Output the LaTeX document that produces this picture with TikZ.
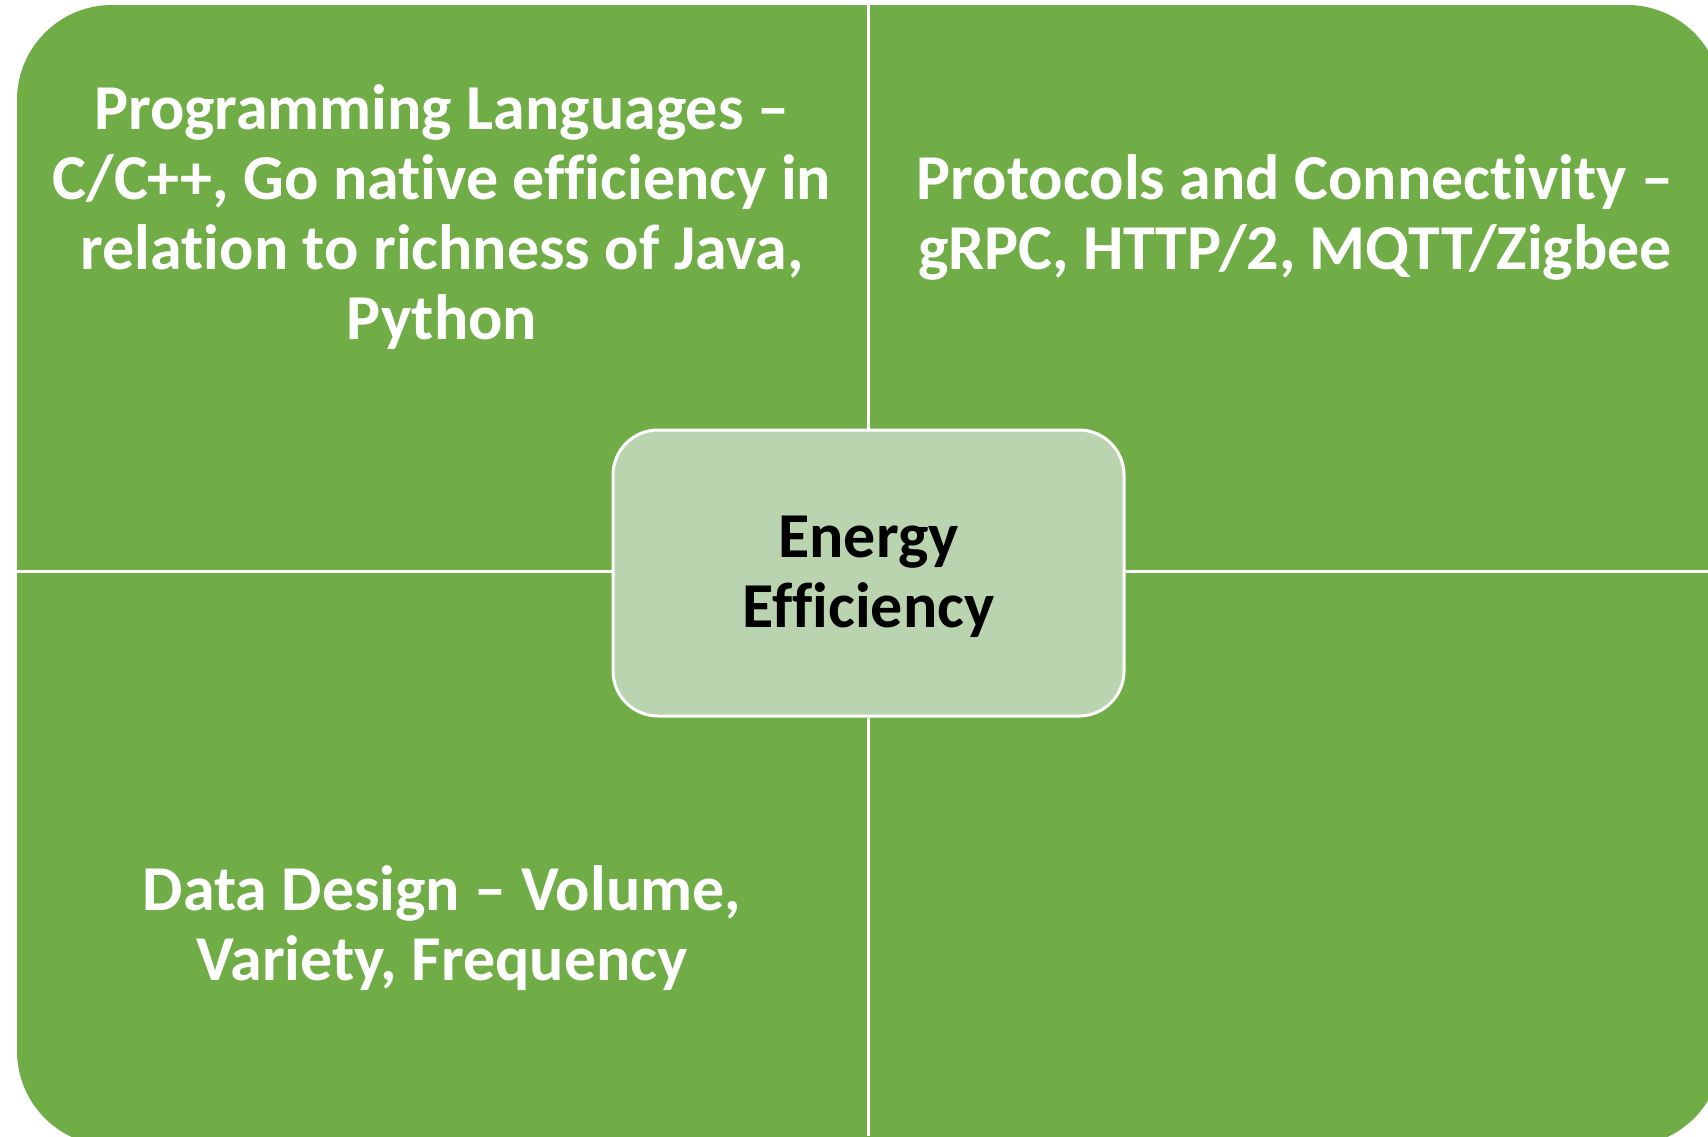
\documentclass[tikz,border=0pt]{standalone}
\usepackage{fontspec}
\setmainfont{Carlito}[Ligatures={TeX,NoCommon,NoContextual}]
\definecolor{leaf}{HTML}{70AD47}
\definecolor{paleleaf}{HTML}{BBD4B0}
\begin{document}
\begin{tikzpicture}[x=1pt,y=-1pt,
  quadtext/.style={text=white,font=\bfseries\fontsize{64}{70}\selectfont,align=center},
  hubbox/.style={draw=white,line width=3pt,fill=paleleaf,rounded corners=45pt,
    minimum width=511pt,minimum height=286pt,
    text=black,font=\bfseries\fontsize{64}{70}\selectfont,align=center},
  divider/.style={draw=white,line width=3pt}]
\useasboundingbox (0,0) rectangle (1708,1136);
\clip (0,0) rectangle (1708,1136);
% outer matrix panel
\fill[leaf,rounded corners=95pt] (17,5) rectangle (1722,1146);
\coordinate (top) at (868,0);
\coordinate (bottom) at (868,1136);
\coordinate (left) at (17,571);
\coordinate (right) at (1708,571);
\node[hubbox] (hub) at (868.5,573) {};
\node[text=black,font=\bfseries\fontsize{64}{70}\selectfont,align=center] (hubtext) at (868.5,577) {Energy\\Efficiency};
% quadrant dividers
\draw[divider] (top) -- (hub.north -| top);
\draw[divider] (hub.south -| bottom) -- (bottom);
\draw[divider] (left) -- (hub.west |- left);
\draw[divider] (hub.east |- right) -- (right);
% quadrant labels
\node[quadtext] (lang) at (442,217) {Programming Languages –\\C/C++, Go native efficiency in\\relation to richness of Java,\\Python};
\node[quadtext] (proto) at (1295,217) {Protocols and Connectivity –\\gRPC, HTTP/2, MQTT/Zigbee};
\node[quadtext] (data) at (442,928) {Data Design – Volume,\\Variety, Frequency};
\end{tikzpicture}
\end{document}
